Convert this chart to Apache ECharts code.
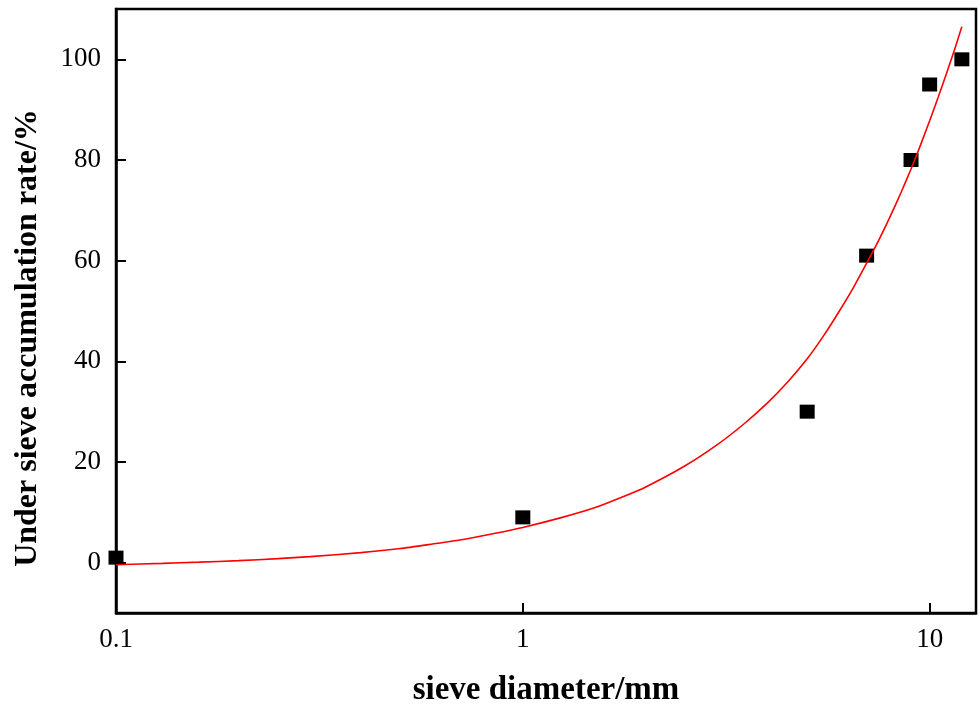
<!DOCTYPE html>
<html>
<head>
<meta charset="utf-8">
<script src="https://cdn.jsdelivr.net/npm/echarts@6/dist/echarts.min.js"></script>
<style>
  html, body { margin: 0; padding: 0; background: #fff; }
  #chart { width: 979px; height: 704px; }
</style>
</head>
<body>
<div id="chart"></div>
<script>
// measured points (sieve diameter mm, cumulative % passing)
var sieveSizes = [0.1, 1, 5, 7, 9, 10, 12];
var passRates = [1, 9, 30, 61, 80, 95, 100];

// fitted red curve
var fitSizes = [0.1, 0.13, 0.16, 0.2, 0.25, 0.3, 0.4, 0.5, 0.6, 0.7, 0.85, 1, 1.25, 1.5, 1.75, 2, 2.5, 3, 3.5, 4, 4.5, 5, 5.5, 6, 6.5, 7, 7.5, 8, 8.5, 9, 9.5, 10, 10.5, 11, 11.5, 12];
var fitRates = [-0.4, -0.15, 0.1, 0.4, 0.8, 1.2, 2.0, 2.8, 3.7, 4.5, 5.8, 7.0, 9.0, 10.9, 13.0, 15.0, 19.2, 23.4, 27.6, 31.8, 36.1, 40.5, 45.2, 50.0, 54.7, 59.5, 64.1, 68.8, 73.5, 78.2, 83.0, 87.8, 92.5, 97.2, 101.8, 106.5];

var xLabels = [0.1, 1, 10];
var yLabels = [0, 20, 40, 60, 80, 100];

var font = '"Liberation Serif", "DejaVu Serif", serif';

function pairs(xs, ys) {
    var out = [];
    for (var i = 0; i < xs.length; i++) {
        out.push([xs[i], ys[i]]);
    }
    return out;
}

function isDecade(v) {
    for (var i = 0; i < xLabels.length; i++) {
        if (Math.abs(v - xLabels[i]) < 1e-6 * xLabels[i]) return true;
    }
    return false;
}

var myChart = echarts.init(document.getElementById('chart'));

var option = {
    animation: false,
    grid: {
        left: 116, right: 3, top: 9, bottom: 91,
        outerBoundsMode: 'none',
        containLabel: false,
        show: true,
        borderColor: '#000',
        borderWidth: 2.5,
        backgroundColor: '#fff'
    },
    xAxis: {
        type: 'log',
        logBase: 10,
        min: 0.1,
        max: 13,
        name: 'sieve diameter/mm',
        nameLocation: 'middle',
        nameGap: 61,
        nameTextStyle: { fontFamily: font, fontWeight: 'bold', fontSize: 33, color: '#000' },
        axisLine: { onZero: false, lineStyle: { color: '#000', width: 2.5 } },
        axisTick: { inside: true, length: 10, lineStyle: { color: '#000', width: 2 } },
        axisLabel: {
            fontFamily: font, fontSize: 27, color: '#000', margin: 13,
            showMaxLabel: false,
            formatter: function (v) { return isDecade(v) ? String(v) : ''; }
        },
        minorTick: { show: false },
        splitLine: { show: false }
    },
    yAxis: {
        type: 'value',
        min: -10,
        max: 110,
        splitNumber: 6,
        name: 'Under sieve accumulation rate/%',
        nameLocation: 'middle',
        nameGap: 72,
        nameRotate: 90,
        nameTextStyle: {
            fontFamily: font, fontWeight: 'bold', fontSize: 32, color: '#000',
            padding: [0, 54, 0, 0]
        },
        axisLine: { onZero: false, lineStyle: { color: '#000', width: 2.5 } },
        axisTick: { inside: true, length: 10, lineStyle: { color: '#000', width: 2 } },
        axisLabel: {
            fontFamily: font, fontSize: 27, color: '#000', margin: 15,
            formatter: function (v) { return yLabels.indexOf(v) >= 0 ? String(v) : ''; }
        },
        splitLine: { show: false }
    },
    series: [
        {
            type: 'line',
            data: pairs(fitSizes, fitRates),
            smooth: 0.2,
            showSymbol: false,
            lineStyle: { color: '#ff0000', width: 1.6 },
            z: 3
        },
        {
            type: 'scatter',
            data: pairs(sieveSizes, passRates),
            symbol: 'rect',
            symbolSize: [15, 14],
            itemStyle: { color: '#000', opacity: 1 },
            z: 2
        }
    ]
};
myChart.setOption(option);
</script>
</body>
</html>
